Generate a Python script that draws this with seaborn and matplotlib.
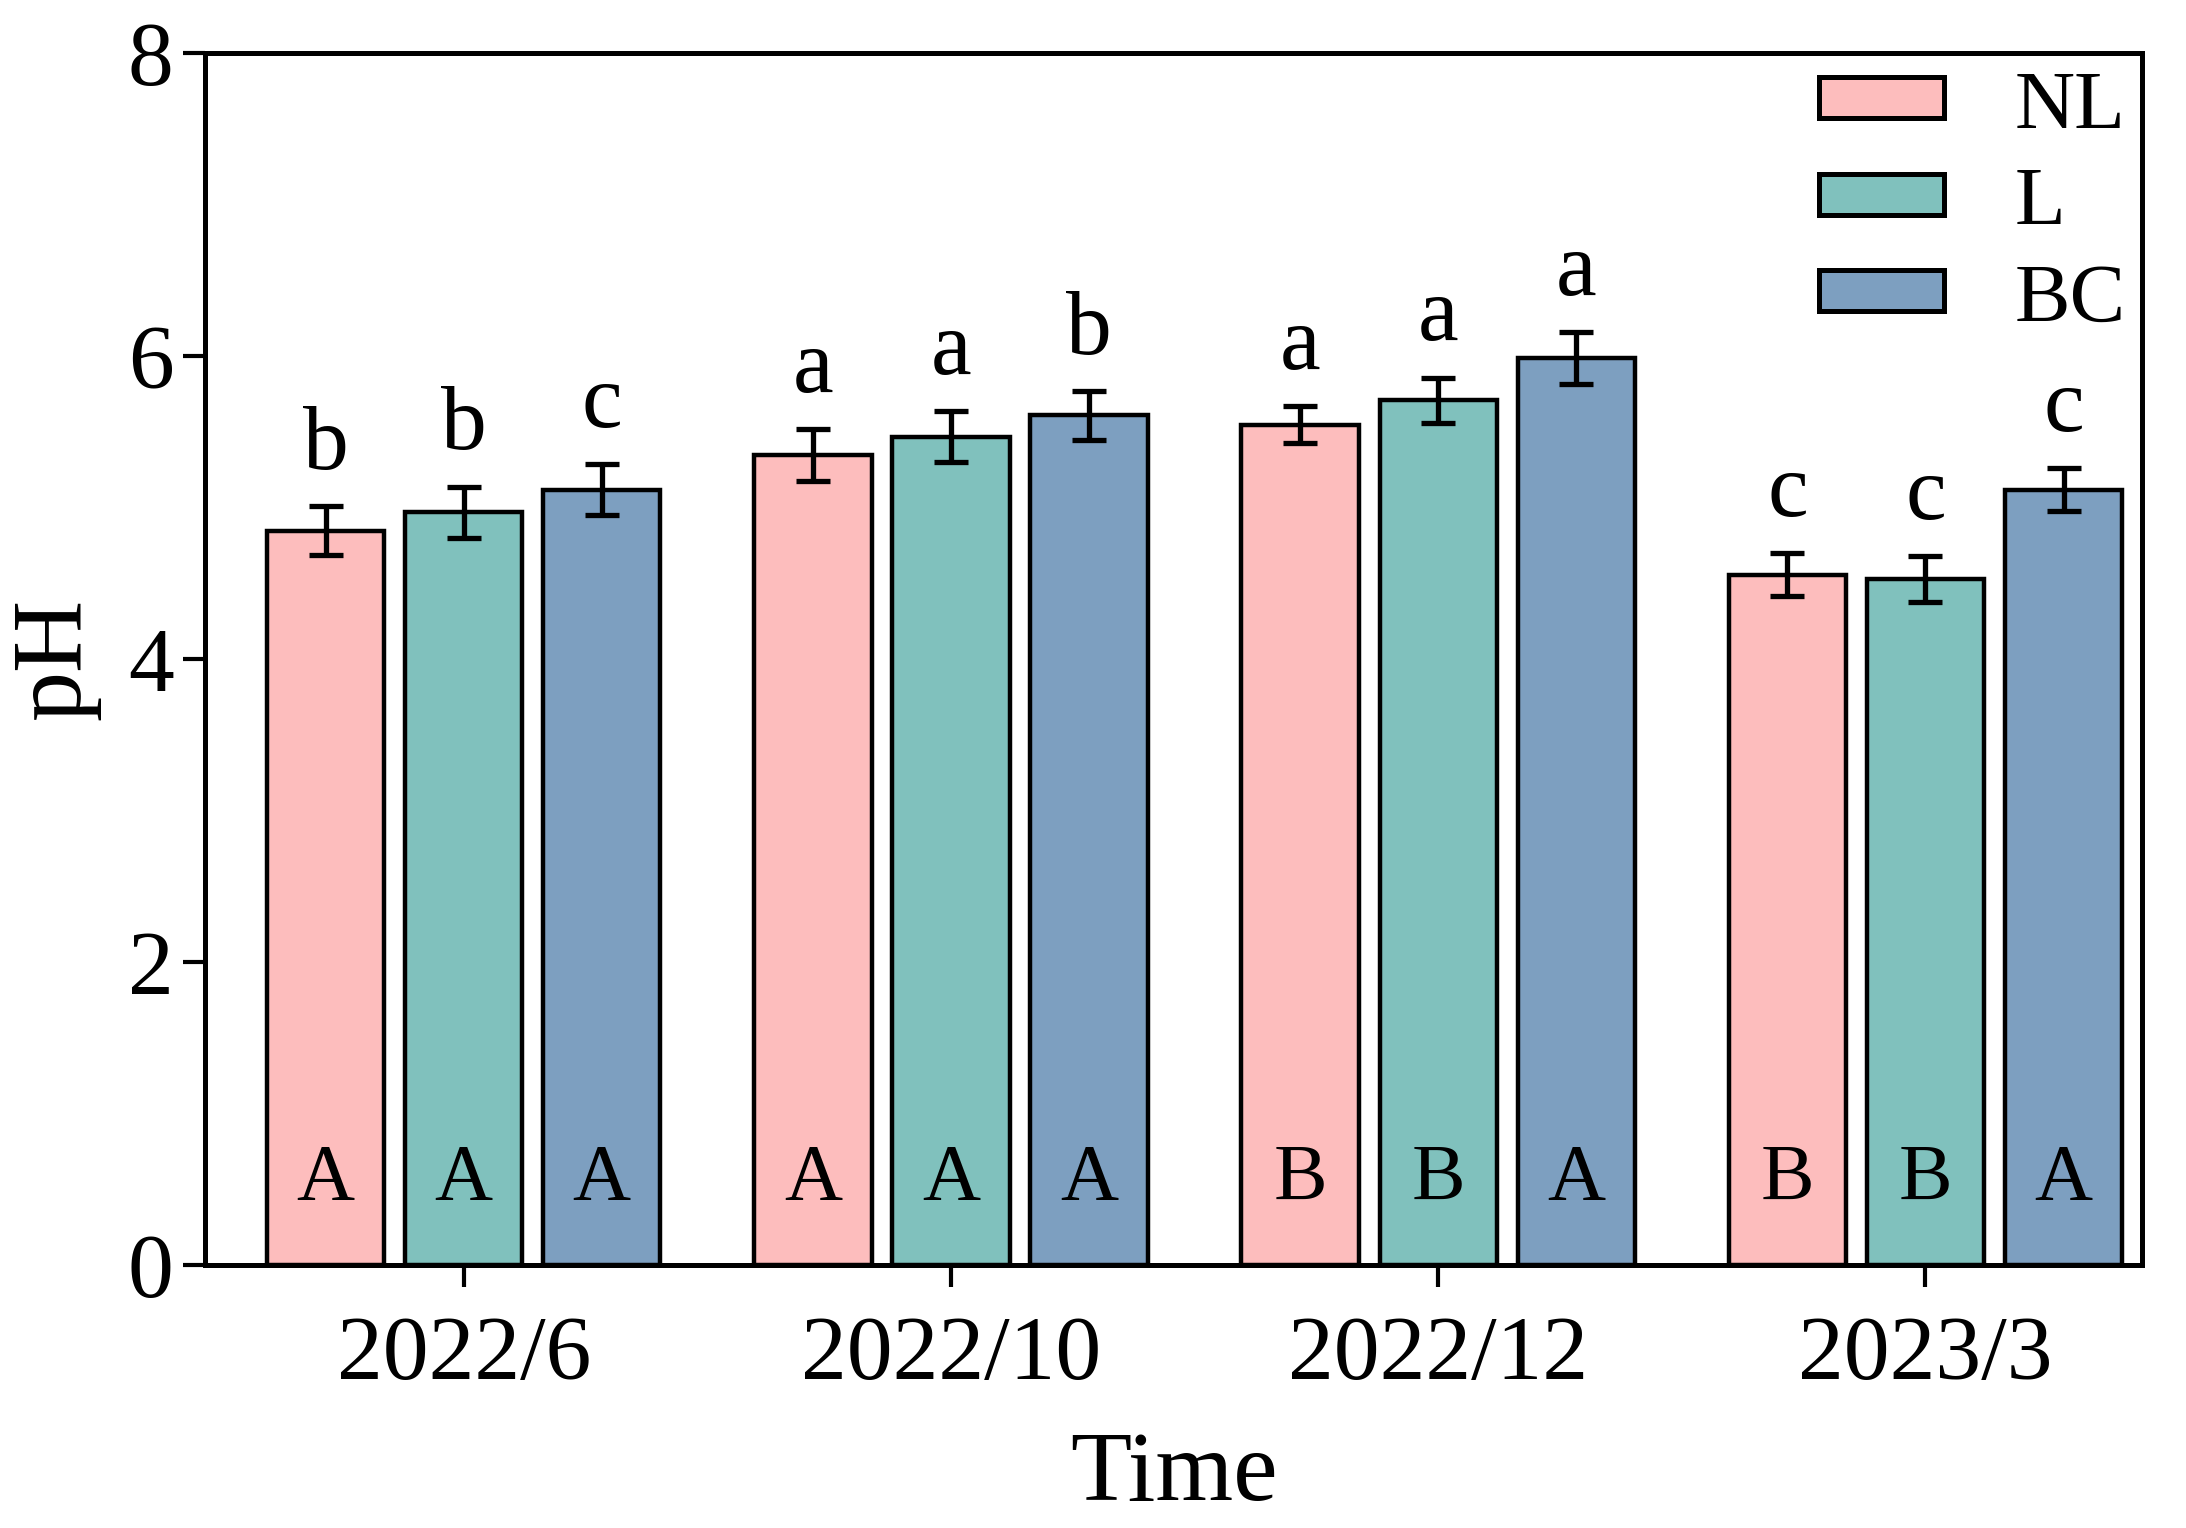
import numpy as np
import pandas as pd
import matplotlib
matplotlib.use("Agg")
import matplotlib.pyplot as plt
import seaborn as sns

# **--- chart data
times = ["2022/6", "2022/10", "2022/12", "2023/3"]
treatments = ["NL", "L", "BC"]
ph_nl = [4.85, 5.35, 5.55, 4.56]
ph_l = [4.97, 5.47, 5.71, 4.53]
ph_bc = [5.12, 5.61, 5.99, 5.12]
err_nl = [0.16, 0.17, 0.12, 0.14]
err_l = [0.17, 0.17, 0.15, 0.15]
err_bc = [0.17, 0.16, 0.17, 0.14]
lower_nl = ["b", "a", "a", "c"]
lower_l = ["b", "a", "a", "c"]
lower_bc = ["c", "b", "a", "c"]
upper_nl = ["A", "A", "B", "B"]
upper_l = ["A", "A", "B", "B"]
upper_bc = ["A", "A", "A", "A"]
colors = ["#FDBDBD", "#80C1BD", "#7D9FC0"]

# long table for seaborn
df = pd.DataFrame({
    "Time": times * 3,
    "Treatment": [t for t in treatments for _ in times],
    "pH": ph_nl + ph_l + ph_bc,
})
errs = [err_nl, err_l, err_bc]
means = [ph_nl, ph_l, ph_bc]
lowers = [lower_nl, lower_l, lower_bc]
uppers = [upper_nl, upper_l, upper_bc]

sns.set_style("ticks")
plt.rcParams["font.family"] = ["Liberation Serif", "DejaVu Serif"]
for k in ["text.color", "axes.labelcolor", "xtick.color", "ytick.color"]:
    plt.rcParams[k] = "black"

fig, ax = plt.subplots(figsize=(10.93, 7.64), dpi=200)
fig.subplots_adjust(left=0.094, right=0.980, top=0.965, bottom=0.172)

sns.barplot(data=df, x="Time", y="pH", hue="Treatment", order=times,
            hue_order=treatments, palette=colors, width=0.85, gap=0.15,
            edgecolor="black", linewidth=1.6, errorbar=None, saturation=1,
            ax=ax)

# error bars + letters on top of each bar
bar_conts = list(ax.containers)[:len(treatments)]
for i, cont in enumerate(bar_conts):
    for j, bar in enumerate(cont):
        xc = bar.get_x() + bar.get_width() / 2
        ax.errorbar(xc, means[i][j], yerr=errs[i][j], fmt="none",
                    ecolor="black", elinewidth=1.9, capsize=6, capthick=1.9,
                    zorder=5)
        ax.text(xc, means[i][j] + errs[i][j] + 0.12, lowers[i][j],
                ha="center", va="bottom", fontsize=33)
        ax.text(xc, 0.32, uppers[i][j], ha="center", va="bottom", fontsize=29)

ax.set_ylim(0, 8)
ax.set_yticks([0, 2, 4, 6, 8])
ax.set_xlim(-0.53, 3.445)
ax.set_xlabel("Time", fontsize=36, labelpad=12)
ax.set_ylabel("pH", fontsize=36, labelpad=10)
ax.tick_params(axis="both", labelsize=33, direction="out", length=8, width=1.5)
ax.tick_params(axis="x", pad=10)
for s in ax.spines.values():
    s.set_linewidth(1.8)
    s.set_color("black")

leg = ax.legend(loc="upper right", frameon=False, fontsize=30,
                handlelength=1.5, handleheight=0.38, handletextpad=0.85,
                labelspacing=0.25, borderaxespad=0.05, borderpad=0.15)
for h in leg.legend_handles:
    h.set_edgecolor("black")
    h.set_linewidth(1.8)

fig.savefig("out.png", dpi=200)
